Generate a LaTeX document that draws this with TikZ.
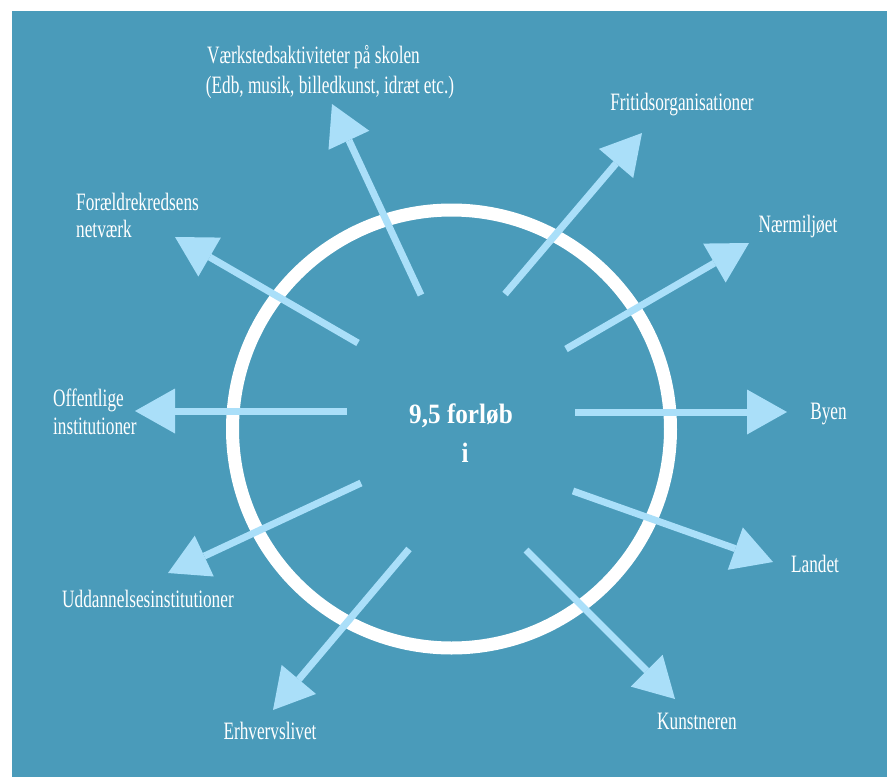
\documentclass[tikz,border=0pt]{standalone}
\usepackage{fontspec}
\setmainfont{Liberation Serif}
\newfontfamily\labfont[FakeStretch=0.69]{Liberation Serif}
\newfontfamily\ctrfont[FakeStretch=0.9]{Liberation Serif}
\usetikzlibrary{arrows.meta}
\definecolor{bg}{HTML}{4A9BBA}
\definecolor{arr}{HTML}{AADFF9}
\begin{document}
\begin{tikzpicture}[x=1pt,y=-1pt,
  lab/.style={text=white, font=\labfont\fontsize{25}{28}\selectfont, inner sep=0pt},
  ctr/.style={text=white, font=\ctrfont\bfseries\fontsize{28}{34}\selectfont, inner sep=0pt},
  ray/.style={draw=arr, line width=7pt, -{Triangle[length=40pt,width=45pt,line width=0pt]}},
]
\useasboundingbox (0,0) rectangle (887,777);
\fill[white] (0,0) rectangle (887,777);
\fill[bg] (12,11) rectangle (887,777);
\coordinate (ctrpt) at (451.5,429);
\draw[white, line width=13pt] (ctrpt) circle (219pt);
% arrows
\coordinate (s1) at (575,412);  \coordinate (t1) at (787,412);
\coordinate (s2) at (347,411);  \coordinate (t2) at (135,411);
\coordinate (s3) at (421,295);  \coordinate (t3) at (332,104);
\coordinate (s4) at (505,294);  \coordinate (t4) at (642,133);
\coordinate (s5) at (566,349);  \coordinate (t5) at (749,243);
\coordinate (s6) at (573,491);  \coordinate (t6) at (773,562);
\coordinate (s7) at (358,343);  \coordinate (t7) at (175,237);
\coordinate (s8) at (361,483);  \coordinate (t8) at (168,573);
\coordinate (s9) at (409,549);  \coordinate (t9) at (273,710);
\coordinate (s10) at (526,550); \coordinate (t10) at (675,699);
\foreach \i in {1,...,10} {\draw[ray] (s\i) -- (t\i);}
% labels
\node[lab, anchor=base] (vk1) at (313.5,63) {Værkstedsaktiviteter på skolen};
\node[lab, anchor=base] (vk2) at (330,93) {(Edb, musik, billedkunst, idræt etc.)};
\node[lab, anchor=base] (frit) at (682,110) {Fritidsorganisationer};
\node[lab, anchor=base] (naer) at (798,232) {Nærmiljøet};
\node[lab, anchor=base] (byen) at (828.5,419) {Byen};
\node[lab, anchor=base] (land) at (815,572.7) {Landet};
\node[lab, anchor=base] (kunst) at (697,729) {Kunstneren};
\node[lab, anchor=base] (erhv) at (270,739) {Erhvervslivet};
\node[lab, anchor=base] (udd) at (148,607) {Uddannelsesinstitutioner};
\node[lab, anchor=base west] (off1) at (53,406) {Offentlige};
\node[lab, anchor=base west] (off2) at (53,434) {institutioner};
\node[lab, anchor=base west] (for1) at (76,210) {Forældrekredsens};
\node[lab, anchor=base west] (for2) at (76,237) {netværk};
\node[ctr, anchor=base] (c1) at (461,423) {9,5 forløb};
\node[ctr, anchor=base] (c2) at (465,462) {i};
\end{tikzpicture}
\end{document}
